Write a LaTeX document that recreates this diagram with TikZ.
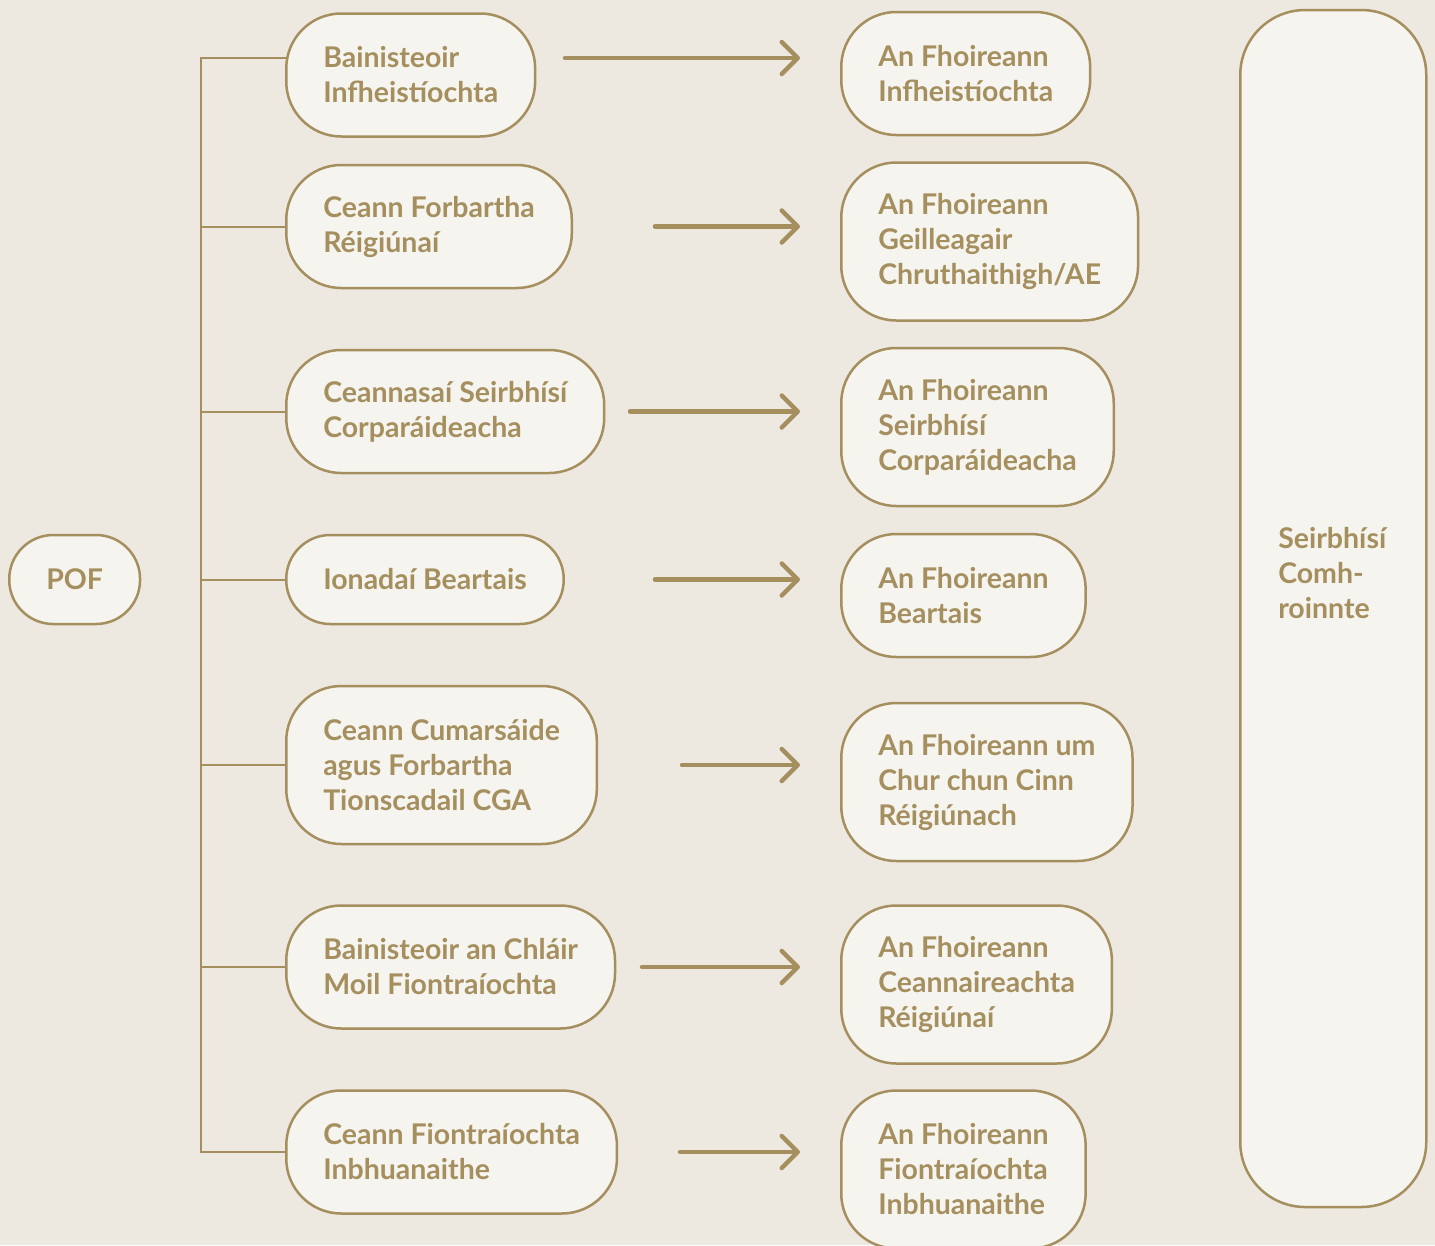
\documentclass[tikz,border=0pt]{standalone}
\usepackage{fontspec}
\setmainfont{Lato}
\usetikzlibrary{arrows.meta,backgrounds}
\definecolor{gold}{HTML}{A58F5E}
\definecolor{paper}{HTML}{EDE9E0}
\definecolor{card}{HTML}{F5F4EF}
\tikzset{
	box/.style={draw=gold, fill=card, line width=2.5pt, rounded corners=55pt, inner xsep=37pt, inner ysep=0pt,
		align=left, text=gold, font=\fontsize{28.5pt}{35pt}\selectfont\bfseries, anchor=west},
	oneline/.style={minimum height=89pt, rounded corners=44pt},
	twoline/.style={minimum height=123pt},
	threeline/.style={minimum height=158pt},
	link/.style={draw=gold, line width=2pt},
	arrow/.style={draw=gold, line width=4.5pt, line cap=round, shorten >=40pt,
		-{Straight Barb[length=16pt,width=32pt,line cap=round,line join=round]}}
}
\begin{document}
\begin{tikzpicture}[x=1pt,y=-1pt]
	\useasboundingbox (0,0) rectangle (1435,1245);
	
	%head
	\node[box,oneline] (pof) at (8,579.5) {POF};
	
	%managers
	\node[box,twoline] (l1) at (285,75) {Bainisteoir\\Infheistíochta};
	\node[box,twoline] (l2) at (285,226.5) {Ceann Forbartha\\Réigiúnaí};
	\node[box,twoline] (l3) at (285,411.5) {Ceannasaí Seirbhísí\\Corparáideacha};
	\node[box,oneline] (l4) at (285,579.5) {Ionadaí Beartais};
	\node[box,threeline] (l5) at (285,765) {Ceann Cumarsáide\\agus Forbartha\\Tionscadail CGA};
	\node[box,twoline] (l6) at (285,967) {Bainisteoir an Chláir\\Moil Fiontraíochta};
	\node[box,twoline] (l7) at (285,1152) {Ceann Fiontraíochta\\Inbhuanaithe};
	
	%teams
	\node[box,twoline] (r1) at (840,73.5) {An Fhoireann\\Infheistíochta};
	\node[box,threeline] (r2) at (840,241.5) {An Fhoireann\\Geilleagair\\Chruthaithigh/AE};
	\node[box,threeline] (r3) at (840,427) {An Fhoireann\\Seirbhísí\\Corparáideacha};
	\node[box,twoline] (r4) at (840,595.5) {An Fhoireann\\Beartais};
	\node[box,threeline] (r5) at (840,782) {An Fhoireann um\\Chur chun Cinn\\Réigiúnach};
	\node[box,threeline] (r6) at (840,984.5) {An Fhoireann\\Ceannaireachta\\Réigiúnaí};
	\node[box,threeline] (r7) at (840,1169.5) {An Fhoireann\\Fiontraíochta\\Inbhuanaithe};
	
	%shared services
	\node[box, minimum width=186pt, minimum height=1197pt, rounded corners=65pt] (shared) at (1239,608.5) {};
	\node[box, draw=none, fill=none, inner sep=0pt, minimum height=0pt] (sharedtext) at (1277,573) {Seirbhísí\\Comh-\\roinnte};
	
	%arrows
	\path (565,58) coordinate (a1) (655,226.5) coordinate (a2) (630,411.5) coordinate (a3)
		(655,579.5) coordinate (a4) (682,765) coordinate (a5) (642,967) coordinate (a6) (680,1152) coordinate (a7);
	\foreach \n in {1,...,7}{
		\draw[arrow] (a\n) -- (a\n -| r\n.west);
	}
	
	%tree
	\begin{scope}[on background layer]
		\fill[paper] (0,0) rectangle (1435,1245);
		\coordinate (top) at (201,58);
		\coordinate (bot) at (201,1152);
		\draw[link] (top -| l1.center) -- (top) -- (bot) -- (l7.center);
		\foreach \n in {2,...,6}{
			\draw[link] (l\n.center) -- (l\n.center -| top);
		}
	\end{scope}
\end{tikzpicture}
\end{document}
